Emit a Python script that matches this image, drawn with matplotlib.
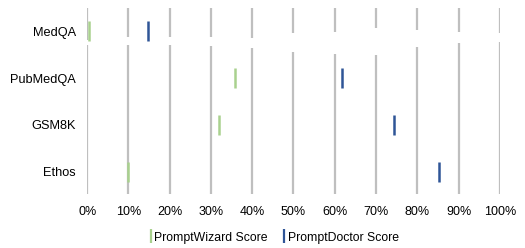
import matplotlib.pyplot as plt
from matplotlib.lines import Line2D

# data
categories = ['MedQA', 'PubMedQA', 'GSM8K', 'Ethos']
wizard_scores = [0.4, 35.8, 32.0, 9.8]
doctor_scores = [14.8, 61.7, 74.3, 85.3]
ticks = [0, 10, 20, 30, 40, 50, 60, 70, 80, 90, 100]
tick_labels = ['%d%%' % t for t in ticks]

# gaps in the gridlines (data y units), as drawn in the original
grid_gaps = [(0.19, 0.29), (0.12, 0.29), (0.12, 0.29), (0.12, 0.31), (0.15, 0.35),
             (0.03, 0.44), (0.01, 0.49), (-0.08, 0.51), (-0.03, 0.34), (0.01, 0.25),
             (0.03, 0.23)]

green = '#a9d18e'
blue = '#2f5597'
grid_color = '#bfbfbf'

plt.rcParams['font.family'] = ['Liberation Sans', 'DejaVu Sans']

fig = plt.figure(figsize=(5.25, 2.48), dpi=100)
ax = fig.add_axes([0.166, 0.214, 0.786, 0.754])

ypos = list(range(len(categories)))
ylo, yhi = 3.5, -0.5

# broken vertical gridlines
for t, (g0, g1) in zip(ticks, grid_gaps):
    ax.plot([t, t], [yhi + 0.01, g0], color=grid_color, lw=1.6, solid_capstyle='butt', zorder=1)
    ax.plot([t, t], [g1, ylo - 0.02], color=grid_color, lw=1.6, solid_capstyle='butt', zorder=1)

ax.plot(wizard_scores, ypos, linestyle='none', marker='|', ms=14, mew=1.8, color=green, zorder=3)
ax.plot(doctor_scores, ypos, linestyle='none', marker='|', ms=14, mew=1.8, color=blue, zorder=3)

ax.set_xlim(0, 100)
ax.set_ylim(ylo, yhi)
ax.set_xticks(ticks)
ax.set_xticklabels(tick_labels, fontsize=9, color='#000000')
ax.set_yticks(ypos)
ax.set_yticklabels(categories, fontsize=9.2, color='#000000')
ax.tick_params(length=0)
ax.tick_params(axis='x', pad=8)
ax.tick_params(axis='y', pad=8)
for s in ax.spines.values():
    s.set_visible(False)

handles = [Line2D([], [], linestyle='none', marker='|', ms=10, mew=1.6, color=green),
           Line2D([], [], linestyle='none', marker='|', ms=10, mew=1.6, color=blue)]
fig.legend(handles, ['PromptWizard Score', 'PromptDoctor Score'], loc='center',
           bbox_to_anchor=(0.522, 0.042), ncol=2, frameon=False, fontsize=8.8,
           handlelength=0.3, handletextpad=0.1, columnspacing=1.2)

fig.savefig('out.png', dpi=100)
